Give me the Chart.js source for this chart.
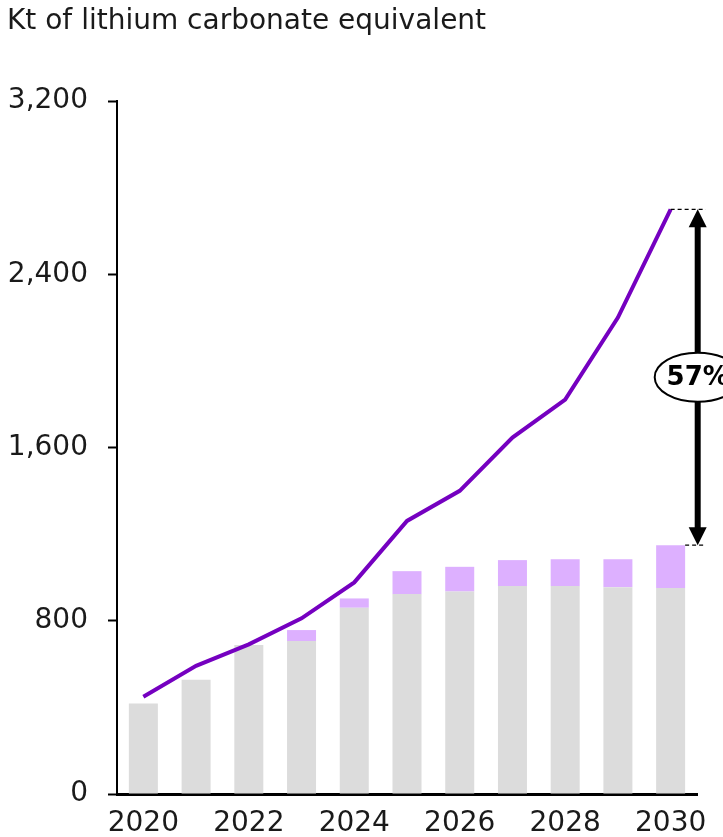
<!DOCTYPE html>
<html>
<head>
<meta charset="utf-8">
<script src="https://cdn.jsdelivr.net/npm/chart.js@4.4.1/dist/chart.umd.min.js"></script>
<style>
  html, body { margin: 0; padding: 0; background: #ffffff; }
  #wrap { position: relative; width: 723px; height: 837px; overflow: hidden; }
</style>
</head>
<body>
<div id="wrap"><canvas id="c" width="723" height="837"></canvas></div>
<script>
// ---- data ----
const titleText = 'Kt of lithium carbonate equivalent';
const categories = ['2020','2021','2022','2023','2024','2025','2026','2027','2028','2029','2030'];
const supplyBase = [418, 527, 688, 706, 860, 923, 935, 960, 960, 955, 951];
const supplyAdded = [0, 0, 0, 51, 43, 106, 114, 120, 124, 129, 198];
const demand = [449, 592, 691, 811, 977, 1261, 1400, 1646, 1821, 2200, 2700];
const yTicks = [0, 800, 1600, 2400, 3200];
const gapLabel = '57%';

const FONT = "'DejaVu Sans', sans-serif";
const TEXT = '#1a1a1a';

const overlay = {
  id: 'overlay',
  afterDraw(chart) {
    const ctx = chart.ctx;
    const ys = chart.scales.y, xs = chart.scales.x;
    const last = categories.length - 1;
    const yTop = ys.getPixelForValue(demand[last]);
    const yBot = ys.getPixelForValue(supplyBase[last] + supplyAdded[last]);
    const xLine = xs.getPixelForValue(last);
    const bar = chart.getDatasetMeta(1).data[last];
    const barRight = bar.x + bar.width / 2;
    const ax = chart.chartArea.right + 0.7;

    ctx.save();
    // title
    ctx.fillStyle = TEXT;
    ctx.font = "28px " + FONT;
    ctx.textAlign = 'left';
    ctx.textBaseline = 'alphabetic';
    ctx.fillText(titleText, 7, 29);

    // dashed reference lines
    ctx.strokeStyle = '#000';
    ctx.lineWidth = 1.3;
    ctx.setLineDash([4, 3]);
    ctx.beginPath();
    ctx.moveTo(xLine, yTop); ctx.lineTo(ax + 8, yTop);
    ctx.moveTo(barRight, yBot); ctx.lineTo(ax + 8, yBot);
    ctx.stroke();
    ctx.setLineDash([]);

    // arrow shaft
    ctx.lineWidth = 6;
    ctx.beginPath();
    ctx.moveTo(ax, yTop + 16); ctx.lineTo(ax, yBot - 16);
    ctx.stroke();
    // arrow heads
    ctx.fillStyle = '#000';
    ctx.beginPath();
    ctx.moveTo(ax, yTop); ctx.lineTo(ax - 9, yTop + 18); ctx.lineTo(ax + 9, yTop + 18); ctx.closePath();
    ctx.fill();
    ctx.beginPath();
    ctx.moveTo(ax, yBot); ctx.lineTo(ax - 9, yBot - 18); ctx.lineTo(ax + 9, yBot - 18); ctx.closePath();
    ctx.fill();

    // ellipse with label
    const cy = (yTop + yBot) / 2;
    ctx.beginPath();
    ctx.ellipse(ax, cy, 43, 24.5, 0, 0, Math.PI * 2);
    ctx.fillStyle = '#fff';
    ctx.fill();
    ctx.lineWidth = 2;
    ctx.strokeStyle = '#000';
    ctx.stroke();
    ctx.fillStyle = '#000';
    ctx.font = "bold 26px " + FONT;
    ctx.textAlign = 'center';
    ctx.textBaseline = 'middle';
    ctx.fillText(gapLabel, ax, cy + 1);
    ctx.restore();
  }
};

new Chart(document.getElementById('c'), {
  type: 'bar',
  data: {
    labels: categories,
    datasets: [
      {
        type: 'line',
        label: 'Demand',
        data: demand,
        stack: 'demand',
        borderColor: '#7500C0',
        borderWidth: 4,
        pointRadius: 0,
        tension: 0,
        fill: false,
        order: 0
      },
      {
        label: 'Supply',
        data: supplyBase,
        stack: 'supply',
        backgroundColor: '#DCDCDC',
        categoryPercentage: 1,
        barPercentage: 0.55,
        order: 1
      },
      {
        label: 'Supply added',
        data: supplyAdded,
        stack: 'supply',
        backgroundColor: '#DDB0FF',
        categoryPercentage: 1,
        barPercentage: 0.55,
        order: 1
      }
    ]
  },
  options: {
    responsive: false,
    animation: false,
    devicePixelRatio: 1,
    layout: { padding: { top: 101, right: 26, left: 0, bottom: 0 } },
    plugins: { legend: { display: false }, tooltip: { enabled: false }, title: { display: false } },
    scales: {
      x: {
        stacked: true,
        grid: { display: false, drawTicks: false },
        border: { display: true, color: '#000', width: 3 },
        ticks: {
          autoSkip: false,
          maxRotation: 0,
          padding: 13,
          color: TEXT,
          font: { family: FONT, size: 28 },
          callback: function(v, i) { return i % 2 === 0 ? categories[i] : ''; }
        },
        afterFit: function(s) { s.height = 43; }
      },
      y: {
        stacked: true,
        min: 0,
        max: 3200,
        afterBuildTicks: function(s) { s.ticks = yTicks.map(v => ({ value: v })); },
        grid: { drawOnChartArea: false, drawTicks: true, tickLength: 9, tickColor: '#000', tickWidth: 2 },
        border: { display: true, color: '#000', width: 2 },
        ticks: {
          padding: 20,
          color: TEXT,
          font: { family: FONT, size: 28 },
          callback: function(v) { return Number(v).toLocaleString('en-US'); }
        },
        afterFit: function(s) { s.width = 117; }
      }
    }
  },
  plugins: [overlay]
});
</script>
</body>
</html>
